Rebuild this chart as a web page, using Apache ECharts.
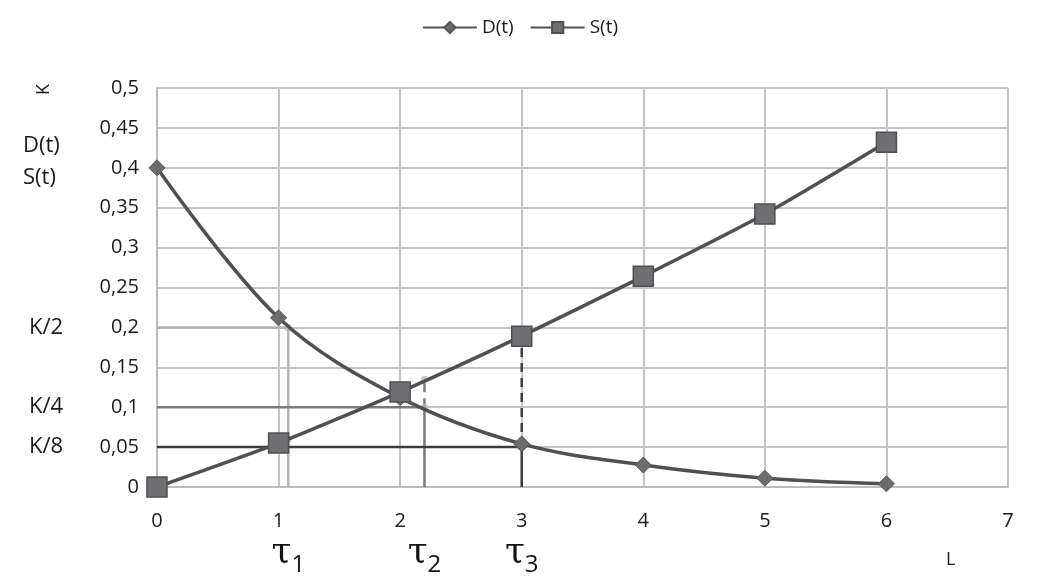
<!DOCTYPE html>
<html><head><meta charset="utf-8">
<script src="https://cdn.jsdelivr.net/npm/echarts@6/dist/echarts.min.js"></script>
<style>html,body{margin:0;padding:0;background:#fff}#c{width:1040px;height:588px}</style>
</head><body><div id="c"></div>
<script>
const tValues = [0, 1, 2, 3, 4, 5, 6];
const dValues = [0.4, 0.212, 0.112, 0.054, 0.0275, 0.011, 0.004];
const sValues = [0, 0.055, 0.119, 0.189, 0.264, 0.342, 0.432];
const tauValues = [1.08, 2.2, 3];
const tauNames = ['1', '2', '3'];
const levelValues = [0.2, 0.1, 0.05];
const levelLabels = ['K/2', 'K/4', 'K/8'];
const sAtTau = [0.06, 0.135, 0.19];
const sideLabels = ['D(t)', 'S(t)'];
const sideLabelLevels = [0.428, 0.388];
const levelColors = ['#b4b4b4', '#7a7a7a', '#3c3c3c'];

const FONT = 'Open Sans';
const chart = echarts.init(document.getElementById('c'), null, {renderer: 'canvas'});
const fmt = v => String(Math.round(v * 1000) / 1000).replace('.', ',');

const series = [];
tauValues.forEach((tau, i) => {
  const lv = levelValues[i];
  const col = levelColors[i];
  series.push({type: 'line', data: [[0, lv], [tau, lv], [tau, 0]], showSymbol: false, silent: true,
    lineStyle: {color: col, width: 2.5}, z: 3});
  if (sAtTau[i] > lv) {
    series.push({type: 'line', data: [[tau, lv], [tau, sAtTau[i]]], showSymbol: false, silent: true,
      lineStyle: {color: col, width: 2.5, type: [9, 6]}, z: 3});
  }
  series.push({type: 'scatter', data: [[tau, lv], [tau, sAtTau[i]]], symbol: 'circle', symbolSize: 7,
    itemStyle: {color: i === 2 ? '#555' : '#b8b8b8'}, silent: true, z: 6});
});
series.push({
  name: 'D(t)', type: 'line', smooth: 0.35, data: tValues.map((t, i) => [t, dValues[i]]),
  symbol: 'diamond', symbolSize: 16, lineStyle: {color: '#505050', width: 3.5},
  itemStyle: {color: '#6c6c6c', borderColor: '#555', borderWidth: 1}, z: 8
});
series.push({
  name: 'S(t)', type: 'line', smooth: 0.2, data: tValues.map((t, i) => [t, sValues[i]]),
  symbol: 'rect', symbolSize: 20, lineStyle: {color: '#505050', width: 3.5},
  itemStyle: {color: '#6f6f73', borderColor: '#505050', borderWidth: 1.5}, z: 9
});

chart.setOption({
  animation: false,
  textStyle: {fontFamily: FONT},
  legend: {data: ['D(t)', 'S(t)'], top: 13, left: 'center', itemWidth: 54, itemHeight: 14, itemGap: 16,
    textStyle: {fontSize: 19, color: '#1a1a1a', fontFamily: FONT}},
  grid: {left: 157, right: 32, top: 88, bottom: 101},
  xAxis: {type: 'value', min: 0, max: 7, interval: 1,
    axisLine: {show: true, lineStyle: {color: '#bcbcbc', width: 2}}, axisTick: {show: false},
    axisLabel: {fontSize: 20, color: '#1a1a1a', margin: 24, fontFamily: FONT},
    splitLine: {show: true, lineStyle: {color: '#c4c4c4', width: 2}}},
  yAxis: {type: 'value', min: 0, max: 0.5, interval: 0.05,
    axisLine: {show: true, lineStyle: {color: '#bcbcbc', width: 2}}, axisTick: {show: false},
    axisLabel: {fontSize: 20, color: '#1a1a1a', margin: 18, formatter: fmt, fontFamily: FONT},
    splitLine: {show: true, lineStyle: {color: '#c4c4c4', width: 2}}},
  series: series
});

const graphics = [];
levelValues.forEach((lv, i) => {
  const p = chart.convertToPixel({gridIndex: 0}, [0, lv]);
  graphics.push({type: 'text', left: 29, top: p[1] - 11,
    style: {text: levelLabels[i], fontSize: 22, fill: '#1a1a1a', fontFamily: FONT}});
});
sideLabelLevels.forEach((lv, i) => {
  const p = chart.convertToPixel({gridIndex: 0}, [0, lv]);
  graphics.push({type: 'text', left: 23, top: p[1] - 11,
    style: {text: sideLabels[i], fontSize: 22, fill: '#1a1a1a', fontFamily: FONT}});
});
const pk = chart.convertToPixel({gridIndex: 0}, [0, 0.5]);
graphics.push({type: 'text', x: 35, y: pk[1] + 7, rotation: Math.PI / 2,
  style: {text: 'K', fontSize: 18, fill: '#1a1a1a', fontFamily: FONT}});
tauValues.forEach((tau, i) => {
  const p = chart.convertToPixel({gridIndex: 0}, [tau, 0]);
  graphics.push({type: 'text', x: p[0], y: 553,
    style: {text: '{t|τ}{s|' + tauNames[i] + '}', align: 'center', verticalAlign: 'middle',
      rich: {t: {fontSize: 36, fontFamily: 'DejaVu Serif', fill: '#111', verticalAlign: 'bottom'},
             s: {fontSize: 24, fontFamily: FONT, fill: '#111', verticalAlign: 'bottom', padding: [0, 0, -6, 0]}}}});
});
graphics.push({type: 'text', x: 946, y: 551,
  style: {text: 'L', fontSize: 18, fill: '#1a1a1a', fontFamily: FONT}});
chart.setOption({graphic: graphics});
</script></body></html>
